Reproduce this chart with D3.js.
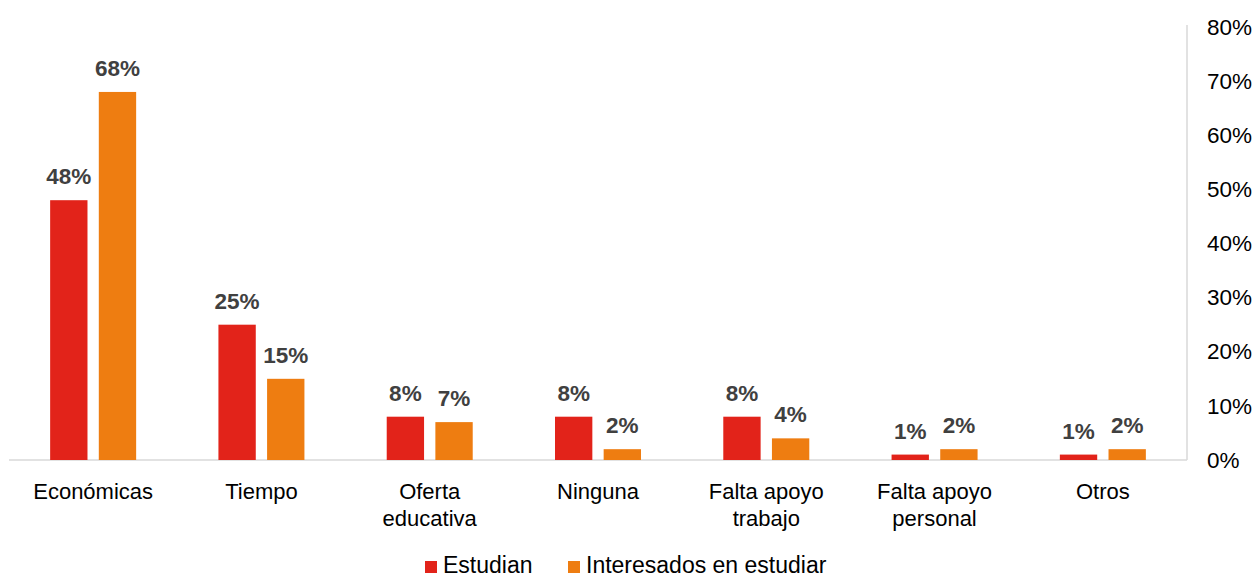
<!DOCTYPE html>
<html>
<head>
<meta charset="utf-8">
<script src="https://cdn.jsdelivr.net/npm/d3@7"></script>
<style>
    body { margin: 0; background: #fff; }
    svg text { font-family: "Liberation Sans", Arial, sans-serif; }
</style>
</head>
<body>
<div id="chart"></div>
<script>
//DATA
let categories = [
    ['Económicas'],
    ['Tiempo'],
    ['Oferta', 'educativa'],
    ['Ninguna'],
    ['Falta apoyo', 'trabajo'],
    ['Falta apoyo', 'personal'],
    ['Otros']
];
let estudian = [48, 25, 8, 8, 8, 1, 1];
let interesados = [68, 15, 7, 2, 4, 2, 2];
let seriesNames = ['Estudian', 'Interesados en estudiar'];
let yTicks = [0, 10, 20, 30, 40, 50, 60, 70, 80];

let colors = ['#E2231A', '#EE7D11'];

//CHART
let width = 1258, height = 578;
let margin = {top: 27, right: 71, bottom: 118, left: 9};
let innerW = width - margin.left - margin.right,
    innerH = height - margin.top - margin.bottom;

let svg = d3.select('#chart')
    .append('svg')
        .attr('width', width)
        .attr('height', height);

let chart = svg.append('g')
    .attr('transform', 'translate(' + margin.left + ',' + margin.top + ')');

let x0 = d3.scaleBand()
    .domain(d3.range(categories.length))
    .range([0, innerW]);

let x1 = d3.scaleBand()
    .domain([0, 1])
    .range([x0.bandwidth() / 2 - 43, x0.bandwidth() / 2 + 43])
    .paddingInner(10 / 86 * 2);

let y = d3.scaleLinear()
    .domain([0, 80])
    .range([innerH, 0]);

//Y axis (right)
let yAxis = d3.axisRight(y)
    .tickValues(yTicks)
    .tickSize(0)
    .tickPadding(20)
    .tickFormat(function(d) { return d + '%'; });

chart.append('g')
    .attr('transform', 'translate(' + innerW + ',0)')
    .call(yAxis)
    .call(function(g) { g.select('.domain').remove(); })
    .call(function(g) {
        g.selectAll('.tick text')
            .attr('font-size', 22.5)
            .attr('fill', '#000');
    });

chart.append('line')
    .attr('x1', innerW).attr('x2', innerW)
    .attr('y1', -2).attr('y2', innerH)
    .attr('stroke', '#d9d9d9')
    .attr('stroke-width', 1.5);

chart.append('line')
    .attr('x1', 0).attr('x2', innerW)
    .attr('y1', innerH).attr('y2', innerH)
    .attr('stroke', '#d9d9d9')
    .attr('stroke-width', 1.5);

//Bars
let series = [estudian, interesados];
let groups = chart.selectAll('.group')
    .data(categories)
    .enter()
    .append('g')
    .attr('class', 'group')
    .attr('transform', function(d, i) { return 'translate(' + x0(i) + ',0)'; });

groups.each(function(c, i) {
    let g = d3.select(this);
    series.forEach(function(s, k) {
        g.append('rect')
            .attr('x', x1(k))
            .attr('y', y(s[i]))
            .attr('width', x1.bandwidth())
            .attr('height', innerH - y(s[i]))
            .attr('fill', colors[k]);
        g.append('text')
            .attr('x', x1(k) + x1.bandwidth() / 2)
            .attr('y', y(s[i]) - 16)
            .attr('text-anchor', 'middle')
            .attr('font-size', 22.5)
            .attr('font-weight', 'bold')
            .attr('fill', '#404040')
            .text(s[i] + '%');
    });
    let t = g.append('text')
        .attr('x', x0.bandwidth() / 2)
        .attr('y', innerH + 39)
        .attr('text-anchor', 'middle')
        .attr('font-size', 22)
        .attr('fill', '#000');
    c.forEach(function(line, j) {
        t.append('tspan')
            .attr('x', x0.bandwidth() / 2)
            .attr('dy', j === 0 ? 0 : 27)
            .text(line);
    });
});

//Legend
let legend = svg.append('g')
    .attr('transform', 'translate(425,566)');
let legendX = [0, 143];
seriesNames.forEach(function(name, k) {
    legend.append('rect')
        .attr('x', legendX[k])
        .attr('y', -5)
        .attr('width', 12)
        .attr('height', 12)
        .attr('fill', colors[k]);
    legend.append('text')
        .attr('x', legendX[k] + 18)
        .attr('y', 7)
        .attr('font-size', 23)
        .attr('fill', '#000')
        .text(name);
});
</script>
</body>
</html>
